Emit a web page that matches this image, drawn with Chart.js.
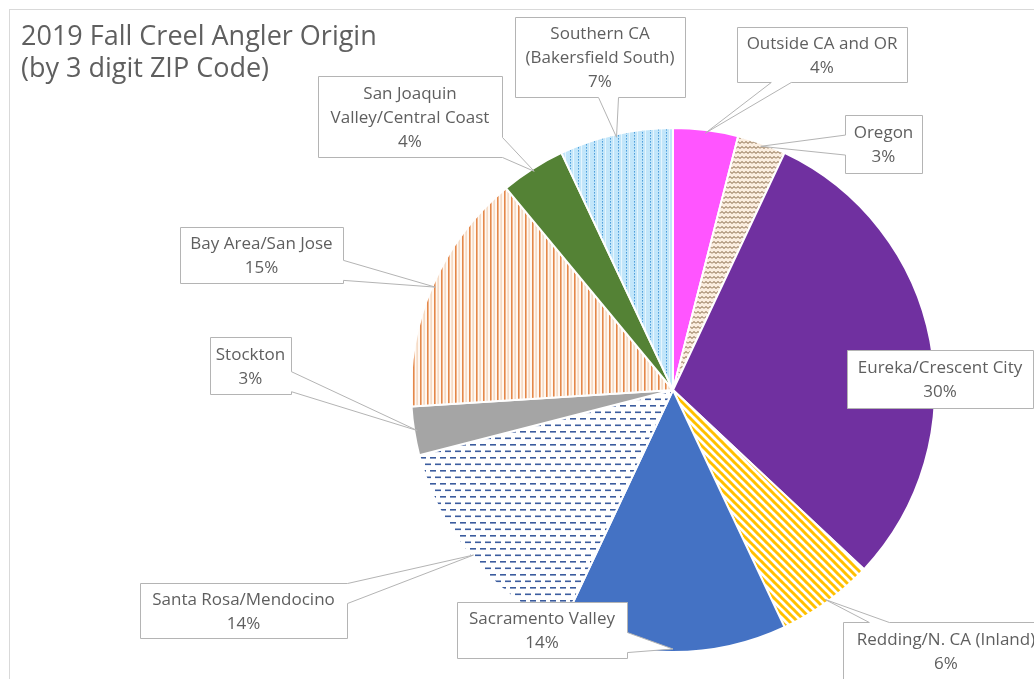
<!DOCTYPE html>
<html>
<head>
<meta charset="utf-8">
<title>2019 Fall Creel Angler Origin</title>
<script src="https://cdn.jsdelivr.net/npm/chart.js@4/dist/chart.umd.min.js"></script>
<style>
  html, body { margin: 0; padding: 0; background: #fff; }
  #wrap { width: 1034px; height: 679px; overflow: hidden; }
</style>
</head>
<body>
<div id="wrap"><canvas id="originChart" width="1034" height="679"></canvas></div>
<script>
// data – podíl rybářů podle původu (3místné PSČ)
const categories = [
    'Outside CA and OR', 'Oregon', 'Eureka/Crescent City', 'Redding/N. CA (Inland)',
    'Sacramento Valley', 'Santa Rosa/Mendocino', 'Stockton', 'Bay Area/San Jose',
    'San Joaquin Valley/Central Coast', 'Southern CA (Bakersfield South)'
];
const shares = [4, 3, 30, 6, 14, 14, 3, 15, 4, 7];
// zalomené popisky tak jak jsou v bublinách
const labelLines = [
    ['Outside CA and OR'], ['Oregon'], ['Eureka/Crescent City'], ['Redding/N. CA (Inland)'],
    ['Sacramento Valley'], ['Santa Rosa/Mendocino'], ['Stockton'], ['Bay Area/San Jose'],
    ['San Joaquin', 'Valley/Central Coast'], ['Southern CA', '(Bakersfield South)']
];
const titleLines = ['2019 Fall Creel Angler Origin', '(by 3 digit ZIP Code)'];

// rozložení bublin (x, y, šířka, výška) – jen layout
const calloutBoxes = [
    [737, 27, 170, 55], [845, 115, 77, 58], [847, 350, 186, 58], [843, 622, 206, 57],
    [457, 602, 170, 56], [140, 583, 207, 55], [210, 337, 81, 57], [180, 227, 163, 56],
    [318, 76, 184, 81], [515, 17, 170, 80]
];
const calloutTail = [true, true, false, true, true, true, true, true, true, true];

function makePattern(w, h, bg, draw) {
    const c = document.createElement('canvas');
    c.width = w;
    c.height = h;
    const g = c.getContext('2d');
    g.fillStyle = bg;
    g.fillRect(0, 0, w, h);
    draw(g);
    return g.createPattern(c, 'repeat');
}

const waves = makePattern(8, 5, '#fbeee0', g => {
    g.strokeStyle = '#7a5a36';
    g.lineWidth = 1;
    g.beginPath();
    g.moveTo(0, 3.5); g.lineTo(2, 1.5); g.lineTo(4, 3.5); g.lineTo(6, 1.5); g.lineTo(8, 3.5);
    g.stroke();
});
const yellowDiag = makePattern(8, 8, '#ffffff', g => {
    g.strokeStyle = '#ffc000';
    g.lineWidth = 3;
    [-8, 0, 8].forEach(o => {
        g.beginPath();
        g.moveTo(o - 1, -1);
        g.lineTo(o + 9, 9);
        g.stroke();
    });
});
const blueDashes = makePattern(10, 13, '#ffffff', g => {
    g.fillStyle = '#3b5c9e';
    g.fillRect(0, 2, 6, 1.6);
    g.fillRect(5, 8.5, 6, 1.6);
    g.fillRect(-5, 8.5, 6, 1.6);
});
const orangeVert = makePattern(7, 4, '#fff8f2', g => {
    g.fillStyle = '#e4884a';
    g.fillRect(0, 0, 1.6, 4);
    g.fillStyle = '#f1cfb4';
    g.fillRect(3.5, 0, 1.2, 4);
});
const lightBlueDots = makePattern(8, 3, '#c2e6fa', g => {
    g.fillStyle = '#4f9fdb';
    g.fillRect(2, 0, 1, 1.6);
    g.fillStyle = '#e6f5fd';
    g.fillRect(5, 0, 1, 3);
});

const sliceColors = [
    '#ff55ff', waves, '#7030a0', yellowDiag, '#4472c4',
    blueDashes, '#a5a5a5', orangeVert, '#548235', lightBlueDots
];

const textColor = '#5f5f5f';
const lineColor = '#b4b4b4';

function calloutPath(ctx, bx, by, bw, bh, tip, withTail) {
    ctx.beginPath();
    if (!withTail) {
        ctx.rect(bx, by, bw, bh);
        return;
    }
    const cx = bx + bw / 2, cy = by + bh / 2;
    const dx = tip.x - cx, dy = tip.y - cy;
    const tx = dx !== 0 ? (bw / 2) / Math.abs(dx) : Infinity;
    const ty = dy !== 0 ? (bh / 2) / Math.abs(dy) : Infinity;
    const hw = 10;
    const clamp = (v, a, b) => Math.max(a, Math.min(b, v));
    let pts;
    if (tx < ty) {
        const py = clamp(cy + dy * tx, by + hw, by + bh - hw);
        if (dx > 0) {
            pts = [[bx, by], [bx + bw, by], [bx + bw, py - hw], [tip.x, tip.y], [bx + bw, py + hw], [bx + bw, by + bh], [bx, by + bh]];
        } else {
            pts = [[bx, by], [bx + bw, by], [bx + bw, by + bh], [bx, by + bh], [bx, py + hw], [tip.x, tip.y], [bx, py - hw]];
        }
    } else {
        const px = clamp(cx + dx * ty, bx + hw, bx + bw - hw);
        if (dy > 0) {
            pts = [[bx, by], [bx + bw, by], [bx + bw, by + bh], [px + hw, by + bh], [tip.x, tip.y], [px - hw, by + bh], [bx, by + bh]];
        } else {
            pts = [[bx, by], [px - hw, by], [tip.x, tip.y], [px + hw, by], [bx + bw, by], [bx + bw, by + bh], [bx, by + bh]];
        }
    }
    ctx.moveTo(pts[0][0], pts[0][1]);
    pts.slice(1).forEach(p => ctx.lineTo(p[0], p[1]));
    ctx.closePath();
}

// rámeček + nadpis
const framePlugin = {
    id: 'frameTitle',
    beforeDraw(chart) {
        const ctx = chart.ctx;
        ctx.save();
        ctx.fillStyle = '#ffffff';
        ctx.fillRect(0, 0, chart.width, chart.height);
        ctx.strokeStyle = '#d9d9d9';
        ctx.lineWidth = 1;
        ctx.strokeRect(9.5, 9.5, 1200, 800);
        ctx.fillStyle = textColor;
        ctx.font = '27px "Open Sans"';
        ctx.textAlign = 'left';
        ctx.textBaseline = 'alphabetic';
        ctx.fillText(titleLines[0], 21, 45);
        ctx.fillText(titleLines[1], 21, 77);
        ctx.restore();
    }
};

// bubliny s popisky
const calloutPlugin = {
    id: 'callouts',
    afterDatasetsDraw(chart) {
        const ctx = chart.ctx;
        const meta = chart.getDatasetMeta(0);
        ctx.save();
        meta.data.forEach((arc, i) => {
            const p = arc.getProps(['x', 'y', 'startAngle', 'endAngle', 'outerRadius'], true);
            const mid = (p.startAngle + p.endAngle) / 2;
            const tip = {
                x: p.x + Math.cos(mid) * (p.outerRadius - 3),
                y: p.y + Math.sin(mid) * (p.outerRadius - 3)
            };
            const [bx, by, bw, bh] = calloutBoxes[i];
            calloutPath(ctx, bx + 0.5, by + 0.5, bw, bh, tip, calloutTail[i]);
            ctx.fillStyle = '#ffffff';
            ctx.fill();
            ctx.strokeStyle = lineColor;
            ctx.lineWidth = 1;
            ctx.stroke();

            const lines = labelLines[i].concat([shares[i] + '%']);
            const lh = 24;
            const cx = bx + bw / 2;
            let cy = by + bh / 2 - (lines.length - 1) * lh / 2;
            ctx.fillStyle = textColor;
            ctx.font = '17px "Open Sans"';
            ctx.textAlign = 'center';
            ctx.textBaseline = 'alphabetic';
            lines.forEach(t => {
                ctx.fillText(t, cx, cy + 6);
                cy += lh;
            });
        });
        ctx.restore();
    }
};

const ctx = document.getElementById('originChart').getContext('2d');
window.originChart = new Chart(ctx, {
    type: 'pie',
    data: {
        labels: categories,
        datasets: [{
            data: shares,
            backgroundColor: sliceColors,
            borderColor: '#ffffff',
            borderWidth: 2
        }]
    },
    options: {
        responsive: false,
        animation: false,
        layout: {
            padding: { left: 410, right: 98, top: 127, bottom: 26 }
        },
        plugins: {
            legend: { display: false },
            tooltip: { enabled: false }
        }
    },
    plugins: [framePlugin, calloutPlugin]
});
</script>
</body>
</html>
